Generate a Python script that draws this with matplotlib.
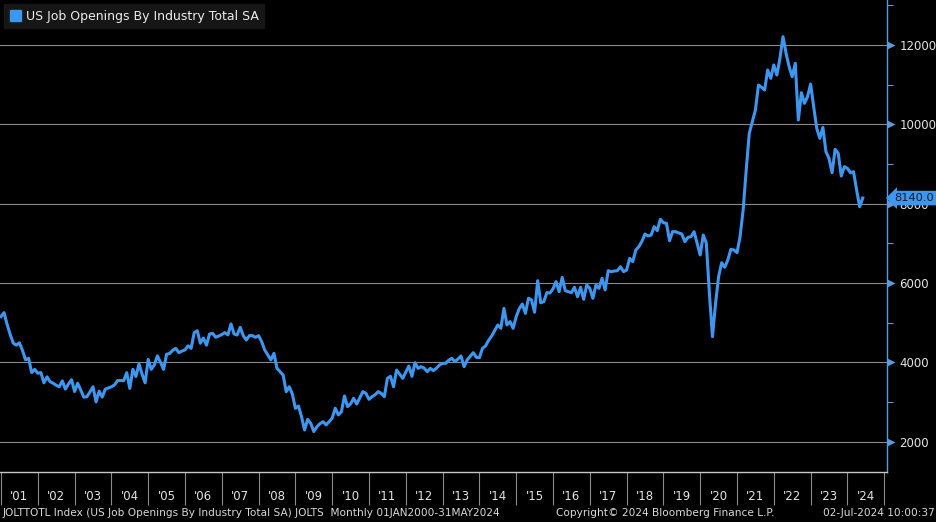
import numpy as np
import matplotlib.pyplot as plt
import matplotlib.transforms as mtransforms
from matplotlib.patches import Patch

# JOLTS total job openings, thousands, monthly from Dec 2000 to May 2024
openings = [
    5150,
    5250, 4950, 4700, 4480, 4430, 4490, 4300, 4060, 4100, 3740, 3820, 3720,  # 2001
    3740, 3480, 3630, 3510, 3470, 3420, 3380, 3530, 3320, 3450, 3560, 3260,  # 2002
    3470, 3300, 3120, 3130, 3250, 3380, 3000, 3270, 3120, 3320, 3350, 3380,  # 2003
    3425, 3534, 3540, 3534, 3736, 3340, 3820, 3640, 3955, 3700, 3480, 4070,  # 2004
    3820, 3930, 4160, 4000, 3820, 4200, 4220, 4300, 4350, 4240, 4280, 4310,  # 2005
    4410, 4350, 4745, 4795, 4480, 4610, 4430, 4710, 4730, 4630, 4660, 4700,  # 2006
    4745, 4690, 4964, 4712, 4686, 4880, 4670, 4560, 4670, 4670, 4628, 4670,  # 2007
    4518, 4308, 4182, 4056, 4224, 3846, 3761, 3677, 3257, 3382, 3198, 2837,  # 2008
    2896, 2626, 2290, 2560, 2460, 2250, 2370, 2450, 2500, 2420, 2500, 2590,  # 2009
    2840, 2670, 2750, 3150, 2880, 2950, 3090, 2946, 3100, 3257, 3215, 3064,  # 2010
    3131, 3180, 3257, 3215, 3131, 3594, 3644, 3383, 3803, 3700, 3594, 3750,  # 2011
    3904, 3644, 3988, 3845, 3887, 3850, 3761, 3845, 3787, 3850, 3930, 3972,  # 2012
    3972, 4050, 4098, 4014, 4080, 4157, 3887, 4056, 4150, 4240, 4123, 4114,  # 2013
    4350, 4409, 4550, 4661, 4800, 4939, 4855, 5359, 4939, 5023, 4855, 5148,  # 2014
    5350, 5468, 5233, 5612, 5569, 5260, 6056, 5500, 5527, 5754, 5746, 5850,  # 2015
    6031, 5780, 6140, 5804, 5780, 5754, 5889, 5653, 5889, 5586, 5947, 5863,  # 2016
    5612, 5947, 5863, 6116, 5822, 6308, 6283, 6300, 6308, 6409, 6283, 6325,  # 2017
    6620, 6536, 6830, 6914, 7050, 7233, 7183, 7208, 7418, 7317, 7604, 7519,  # 2018
    7502, 7065, 7292, 7292, 7260, 7233, 7040, 7150, 7166, 7292, 6998, 6704,  # 2019
    7208, 7000, 5738, 4644, 5486, 6157, 6510, 6394, 6578, 6847, 6830, 6762,  # 2020
    7166, 7839, 8847, 9773, 10066, 10361, 10991, 10933, 10865, 11370, 11160, 11496,  # 2021
    11243, 11664, 12210, 11790, 11453, 11200, 11538, 10109, 10798, 10530, 10697, 11016,  # 2022
    10445, 9900, 9647, 9924, 9309, 9142, 8779, 9369, 9269, 8696, 8931, 8890,  # 2023
    8780, 8805, 8343, 7922, 8140,  # 2024
]
first_year = 2001          # Dec 2000 is plotted at its month end = 2001.0
year_labels = ["'%02d" % (y % 100) for y in range(2001, 2025)]
y_major = [2000, 4000, 6000, 8000, 10000, 12000]
y_minor = [3000, 5000, 7000, 9000, 11000, 13000]
last_value = 8140.0

LINE = '#3d97f0'
AXIS_BLUE = '#5a9be0'
GRID = '#8a8a8a'
TXT = '#e4e4e4'

t = first_year + np.arange(len(openings)) / 12.0

W, H = 937, 522
fig = plt.figure(figsize=(W / 100, H / 100), dpi=100, facecolor='black')
ax = fig.add_axes([0, 1 - 472 / H, 887 / W, 472 / H])
ax.set_facecolor('black')

ax.plot(t, openings, color=LINE, lw=2.2, zorder=3)
ax.set_xlim(2000.973, 2025.076)
ax.set_ylim(1231, 13135)

for s in ['left', 'top']:
    ax.spines[s].set_visible(False)
ax.spines['right'].set_color(AXIS_BLUE)
ax.spines['right'].set_linewidth(1.0)
ax.spines['bottom'].set_color('#c8c8c8')
ax.spines['bottom'].set_linewidth(1.0)

# y axis on the right
ax.yaxis.tick_right()
ax.set_yticks(y_major)
ax.set_yticklabels([str(v) for v in y_major])
ax.set_yticks(y_minor, minor=True)
ax.tick_params(axis='y', which='major', length=0, pad=9, labelsize=8.5, labelcolor=TXT)
ax.tick_params(axis='y', which='minor', length=4, width=0.8, color=AXIS_BLUE, direction='out')
ax.grid(axis='y', which='major', color=GRID, lw=0.8)
tri = mtransforms.offset_copy(ax.get_yaxis_transform(), fig=fig, x=4, units='dots')
ax.plot(np.ones(len(y_major)), y_major, transform=tri, ls='none', marker='>',
        ms=6, color=AXIS_BLUE, mec='none', clip_on=False, zorder=5)

# x axis: year separators and centred labels
ax.set_xticks(np.arange(2001, 2026))
ax.set_xticklabels([])
ax.set_xticks(np.arange(2001, 2025) + 0.5, minor=True)
ax.set_xticklabels(year_labels, minor=True)
ax.tick_params(axis='x', which='major', length=24, width=0.8, color=GRID, direction='out')
ax.tick_params(axis='x', which='minor', length=0, pad=13, labelsize=8.5, labelcolor=TXT)

# legend
ax.legend(handles=[Patch(color=LINE, label='US Job Openings By Industry Total SA')],
          loc='upper left', bbox_to_anchor=(4 / 887, 1 - 4 / 472), borderaxespad=0,
          frameon=True, fancybox=False, facecolor='#161616', edgecolor='#161616',
          framealpha=1, handlelength=0.9, handleheight=0.9, handletextpad=0.4,
          borderpad=0.45, fontsize=9, labelcolor='#ececec')

# last value tag
tag = mtransforms.offset_copy(ax.get_yaxis_transform(), fig=fig, x=7, units='dots')
ax.text(1.0, last_value, '%.1f' % last_value, transform=tag, ha='left', va='center',
        fontsize=8.2, color='#0b1a30', clip_on=False, zorder=10,
        bbox=dict(boxstyle='larrow,pad=0.2', fc=LINE, ec='none'))

# footer
fig.text(3 / W, 1 - 513 / H,
         'JOLTTOTL Index (US Job Openings By Industry Total SA) JOLTS  Monthly 01JAN2000-31MAY2024',
         fontsize=7.6, color='#d8d8d8', va='center', ha='left')
fig.text(556 / W, 1 - 513 / H, 'Copyright\u00a9 2024 Bloomberg Finance L.P.',
         fontsize=7.6, color='#d8d8d8', va='center', ha='left')
fig.text(935 / W, 1 - 513 / H, '02-Jul-2024 10:00:37',
         fontsize=7.6, color='#d8d8d8', va='center', ha='right')

fig.savefig('out.png', dpi=100, facecolor='black')
